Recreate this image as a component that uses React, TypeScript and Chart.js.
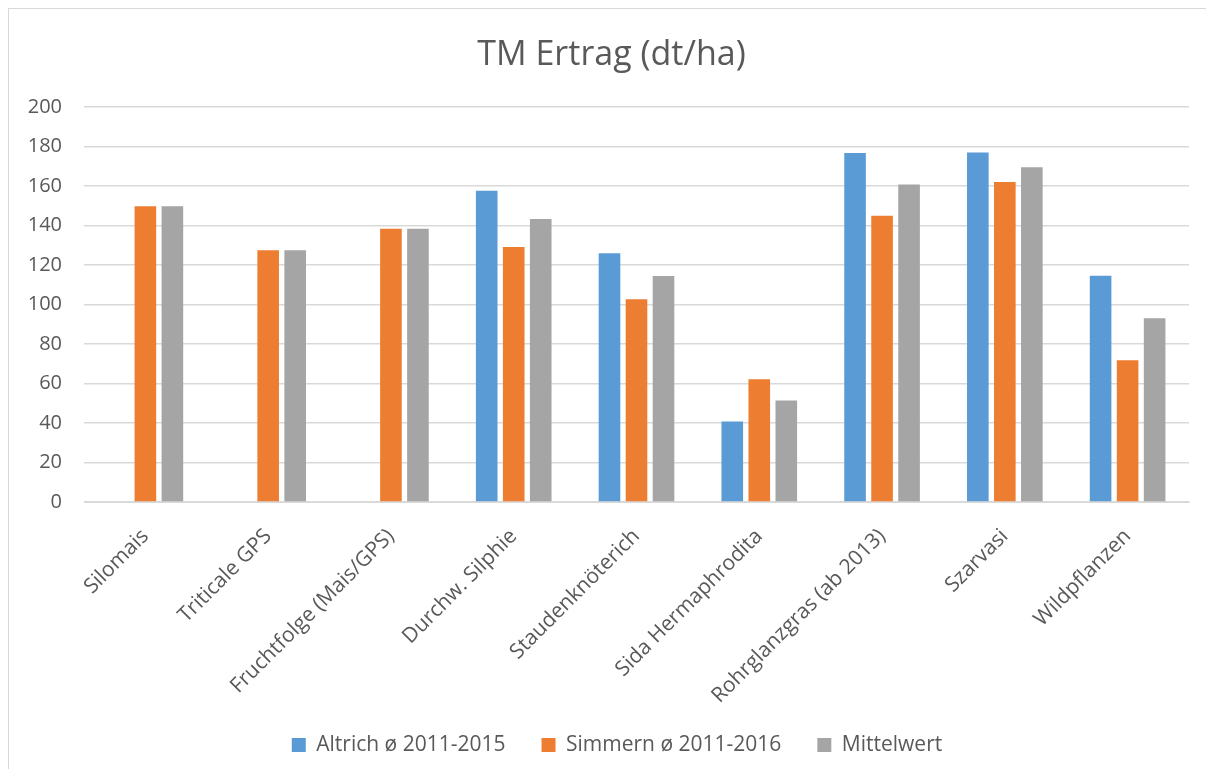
import React, { useEffect, useRef } from "react";
import { Chart, registerables } from "chart.js";

Chart.register(...registerables);

const categories = [
  "Silomais",
  "Triticale GPS",
  "Fruchtfolge (Mais/GPS)",
  "Durchw. Silphie",
  "Staudenknöterich",
  "Sida Hermaphrodita",
  "Rohrglanzgras (ab 2013)",
  "Szarvasi",
  "Wildpflanzen",
];
const altrich = [null, null, null, 157.6, 126.0, 40.7, 176.7, 177.0, 114.5];
const simmern = [149.7, 127.5, 138.4, 129.1, 102.7, 62.1, 144.9, 162.0, 71.8];
const mittelwert = [149.7, 127.5, 138.4, 143.3, 114.4, 51.4, 160.8, 169.5, 93.1];
const seriesNames = ["Altrich ø 2011-2015", "Simmern ø 2011-2016", "Mittelwert"];
const seriesColors = ["#5B9BD5", "#ED7D31", "#A5A5A5"];
const titleText = "TM Ertrag (dt/ha)";

const FONT = "'Open Sans', 'DejaVu Sans', sans-serif";
const TEXT = "#595959";

const layoutTweaks = {
  id: "layoutTweaks",
  afterLayout(chart: any) {
    if (chart.legend) {
      chart.legend.left += 5.5;
      chart.legend.right += 5.5;
    }
    const x = chart.scales.x;
    if (x) {
      // widen only the label clip area so long rotated labels are not cut
      x.bottom += 30;
    }
  },
};

export default function App() {
  const ref = useRef<HTMLCanvasElement | null>(null);
  useEffect(() => {
    if (!ref.current) return;
    const chart = new Chart(ref.current, {
      type: "bar",
      data: {
        labels: categories,
        datasets: [altrich, simmern, mittelwert].map((d, i) => ({
          label: seriesNames[i],
          data: d,
          backgroundColor: seriesColors[i],
          borderWidth: 0,
          categoryPercentage: 0.66,
          barPercentage: 0.8,
        })),
      },
      plugins: [layoutTweaks],
      options: {
        responsive: false,
        animation: false,
        layout: { padding: { left: 0, right: 0, top: 0, bottom: 3.5 } },
        plugins: {
          title: {
            display: true,
            text: titleText,
            color: TEXT,
            font: { family: FONT, size: 34, weight: "normal", lineHeight: 1.2 },
            padding: { top: 25.6, bottom: 31.6 },
          },
          legend: {
            position: "bottom",
            labels: {
              boxWidth: 14,
              boxHeight: 14,
              padding: 36,
              color: TEXT,
              font: { family: FONT, size: 21 },
            },
          },
          tooltip: { enabled: false },
        },
        scales: {
          x: {
            grid: { display: false },
            border: { display: true, color: "#D9D9D9" },
            ticks: {
              color: TEXT,
              font: { family: FONT, size: 21 },
              maxRotation: 45,
              minRotation: 45,
              autoSkip: false,
              padding: 14,
            },
            afterFit: (scale: any) => {
              scale.height = 196.5;
            },
          },
          y: {
            min: 0,
            max: 200,
            grid: { color: "#D9D9D9", lineWidth: 1.5, drawTicks: false },
            border: { display: false },
            ticks: {
              stepSize: 20,
              color: TEXT,
              font: { family: FONT, size: 20 },
              padding: 22,
            },
            afterFit: (scale: any) => {
              scale.width = 75;
            },
          },
          y2: {
            position: "right",
            display: true,
            grid: { display: false, drawTicks: false },
            border: { display: false },
            ticks: { display: false },
            afterFit: (scale: any) => {
              scale.width = 25;
            },
          },
        },
      },
    });
    return () => chart.destroy();
  }, []);
  return (
    <div
      style={{
        width: 1205,
        height: 760,
        borderTop: "1px solid #D9D9D9",
        borderLeft: "1px solid #D9D9D9",
        background: "#fff",
      }}
    >
      <canvas ref={ref} width={1205} height={760} style={{ display: "block" }} />
    </div>
  );
}
